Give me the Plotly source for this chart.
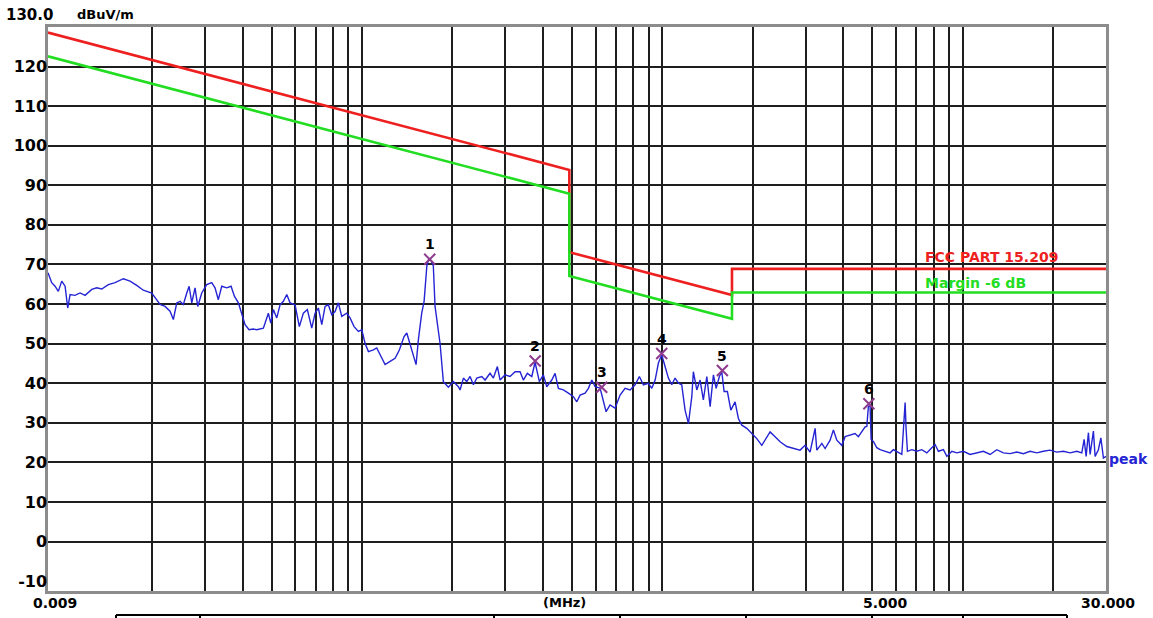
import math
import plotly.graph_objects as go

# ---- data ----
trace_freq = [
    0.009, 0.00926, 0.0095, 0.00974, 0.0100, 0.01026, 0.01047, 0.01066, 0.01107, 0.01151,
    0.01196, 0.01259, 0.01308, 0.01359, 0.0143, 0.01505, 0.01604, 0.01688, 0.01777, 0.01869,
    0.01994, 0.02045, 0.02125, 0.02208, 0.02294, 0.02353, 0.02415, 0.02477, 0.02541, 0.02608,
    0.02655, 0.0271, 0.02779, 0.02837, 0.02925, 0.03039, 0.03158, 0.03239, 0.03322, 0.0341,
    0.03543, 0.03663, 0.03757, 0.03874, 0.03976, 0.04078, 0.04205, 0.04345,
    0.04461, 0.04692, 0.04875, 0.04966, 0.05066, 0.052, 0.05333, 0.0547, 0.05614, 0.05757,
    0.05982, 0.06183, 0.06376, 0.06574, 0.068, 0.06975, 0.07153, 0.07342, 0.0753, 0.07723,
    0.07927, 0.0813, 0.08339, 0.08559, 0.08894, 0.0912, 0.09406, 0.09721, 0.0998, 0.1023,
    0.105, 0.1091, 0.1119, 0.1148, 0.1193, 0.124, 0.1288, 0.1331, 0.138, 0.1409,
    0.1445, 0.1482, 0.1513, 0.154, 0.158, 0.1609, 0.1643, 0.1665, 0.1697, 0.1727,
    0.175, 0.1818, 0.1865, 0.1938, 0.2014, 0.2093,
    0.212, 0.2175, 0.2232, 0.2289, 0.2348, 0.241, 0.2504, 0.2568, 0.2668, 0.2737,
    0.2822, 0.2881, 0.2994, 0.311, 0.3232, 0.3358, 0.3444, 0.3551, 0.3674, 0.3767,
    0.3817, 0.3894, 0.4015, 0.4121, 0.4282, 0.4392, 0.4505, 0.4681, 0.4864, 0.5054,
    0.5188, 0.5321, 0.5529, 0.5671, 0.5821, 0.597, 0.6202, 0.6361, 0.6494, 0.6696,
    0.6958, 0.723, 0.7513, 0.7806, 0.8111, 0.8383, 0.8644, 0.8983,
    0.922, 0.946, 0.970, 0.995, 1.021, 1.047, 1.075, 1.102, 1.131, 1.160,
    1.190, 1.221, 1.253, 1.268, 1.302, 1.335, 1.369, 1.406, 1.442, 1.479,
    1.510, 1.548, 1.577, 1.605, 1.646, 1.690, 1.746, 1.791, 1.838, 1.910,
    1.985, 2.062, 2.143, 2.227, 2.284, 2.373, 2.466, 2.596, 2.731, 2.874,
    2.987, 3.103, 3.225, 3.267, 3.395, 3.482, 3.618, 3.711, 3.809, 3.958,
    4.059, 4.217, 4.382, 4.494, 4.648, 4.732,
    4.794, 4.853, 4.916, 4.955, 5.042, 5.176, 5.308, 5.516, 5.731, 5.878,
    6.109, 6.270, 6.347, 6.431, 6.480, 6.546, 6.769, 7.034, 7.308, 7.594,
    7.890, 8.093, 8.300, 8.625, 8.855, 9.199, 9.559, 10.05, 10.58, 11.14,
    11.72, 12.34, 12.99, 13.66, 14.38, 15.14, 15.93, 16.76, 17.65, 18.56,
    19.54, 20.58, 21.64, 22.78, 23.99, 24.92, 25.37, 25.76, 26.22, 26.56,
    27.24, 27.60, 28.30, 28.84, 29.42, 30.0,
]
trace_level = [
    67.9, 65.4, 64.5, 63.2, 65.8, 64.5, 59.0, 62.4, 62.2, 62.8,
    62.2, 63.7, 64.1, 63.8, 64.9, 65.4, 66.4, 65.8, 64.7, 63.5,
    62.8, 61.6, 59.9, 59.4, 58.2, 56.1, 60.3, 60.7, 59.9, 62.8,
    64.5, 60.3, 64.1, 59.4, 62.8, 64.9, 65.4, 64.1, 61.1, 64.5,
    64.1, 64.5, 62.0, 60.3, 57.3, 54.8, 53.5, 53.7,
    53.5, 53.9, 57.7, 55.2, 58.6, 56.5, 59.8, 60.7, 62.4, 60.3,
    59.8, 54.3, 57.7, 58.6, 53.9, 57.7, 59.0, 54.8, 59.4, 59.8,
    57.3, 58.1, 60.3, 56.9, 57.7, 56.5, 54.3, 53.1, 53.5, 50.1,
    48.0, 48.4, 48.9, 47.2, 44.7, 45.5, 46.3, 48.4, 51.8, 52.7,
    49.7, 46.7, 44.7, 51.0, 57.7, 60.7, 69.6, 71.3, 71.0, 69.6,
    59.4, 50.1, 40.4, 39.0, 40.4, 39.1,
    38.3, 41.3, 40.4, 41.7, 39.6, 41.3, 41.7, 40.8, 42.5, 41.3,
    44.2, 40.8, 42.1, 41.7, 42.9, 42.9, 40.8, 42.5, 41.7, 45.3,
    43.6, 40.4, 42.1, 39.1, 40.8, 42.5, 38.7, 38.3, 37.5, 36.6,
    35.3, 37.0, 37.5, 38.7, 40.8, 39.1, 38.8, 35.3, 32.8, 34.5,
    33.7, 37.0, 38.7, 38.3, 39.6, 41.7, 39.6, 40.0,
    38.7, 40.8, 45.1, 47.2, 44.2, 41.3, 39.6, 41.3, 40.0, 39.6,
    33.2, 29.8, 36.6, 42.9, 38.3, 40.8, 35.8, 41.7, 34.1, 42.1,
    38.7, 41.7, 42.9, 37.9, 37.9, 33.2, 35.3, 31.1, 29.4, 28.6,
    27.3, 26.0, 24.3, 26.5, 27.7, 26.5, 25.2, 24.0, 23.5, 23.1,
    24.3, 22.6, 28.6, 23.1, 24.8, 23.5, 25.6, 28.2, 25.6, 24.3,
    26.5, 26.9, 27.3, 26.5, 28.2, 29.0,
    29.1, 34.2, 34.2, 25.8, 25.3, 23.7, 23.2, 22.8, 22.4, 23.2,
    22.4, 22.0, 28.3, 35.1, 28.3, 22.8, 23.2, 22.8, 23.2, 22.4,
    23.7, 24.5, 22.8, 23.2, 21.5, 22.8, 22.4, 22.8, 22.0, 22.4,
    22.8, 22.0, 23.2, 22.4, 22.2, 22.6, 22.2, 22.8, 22.4, 22.8,
    23.1, 22.6, 22.8, 22.4, 22.8, 22.4, 25.8, 21.5, 27.5, 22.0,
    27.9, 21.5, 23.2, 26.2, 21.1, 21.5,
]

limit_freq = [0.009, 0.49, 0.49, 1.705, 1.705, 30.0]
limit_level = [128.6, 93.9, 73.1, 62.3, 68.9, 68.9]
margin_level = [122.6, 87.9, 67.1, 56.3, 62.9, 62.9]

marker_freq = [0.168, 0.377, 0.628, 0.995, 1.584, 4.87]
marker_level = [71.3, 45.6, 39.0, 47.5, 43.2, 34.8]
marker_names = ["1", "2", "3", "4", "5", "6"]

y_ticks = [-10, 0, 10, 20, 30, 40, 50, 60, 70, 80, 90, 100, 110, 120]
y_grid = [0, 10, 20, 30, 40, 50, 60, 70, 80, 90, 100, 110, 120]
x_grid = [0.02, 0.03, 0.04, 0.05, 0.06, 0.07, 0.08, 0.09, 0.1,
          0.2, 0.3, 0.4, 0.5, 0.6, 0.7, 0.8, 0.9, 1,
          2, 3, 4, 5, 6, 7, 8, 9, 10, 20]
x_labels = [(0.009, "0.009", 7), (5.0, "5.000", 13), (30.0, "30.000", 2)]
legend_freq = 7.35

RED = "#ee1f1f"
GREEN = "#22dd22"
BLUE = "#2424d4"
PURPLE = "#8e3b8e"
FONT = "DejaVu Sans"

fig = go.Figure()
fig.add_trace(go.Scatter(x=limit_freq, y=limit_level, mode="lines",
                         line=dict(color=RED, width=2.6), hoverinfo="skip"))
fig.add_trace(go.Scatter(x=limit_freq, y=margin_level, mode="lines",
                         line=dict(color=GREEN, width=2.6), hoverinfo="skip"))
fig.add_trace(go.Scatter(x=trace_freq, y=trace_level, mode="lines",
                         line=dict(color=BLUE, width=1.4)))
fig.add_trace(go.Scatter(x=marker_freq, y=marker_level, mode="markers",
                         marker=dict(symbol="x-thin-open", size=11, color=PURPLE,
                                     line=dict(color=PURPLE, width=2))))

ann = []
for f, v, n in zip(marker_freq, marker_level, marker_names):
    ann.append(dict(x=math.log10(f), y=v, xref="x", yref="y", text=n, showarrow=False,
                    yshift=15, font=dict(family=FONT, size=14, color="black", weight="bold")))
for f, t, dx in x_labels:
    ann.append(dict(x=math.log10(f), y=0, xref="x", yref="paper", text=t, showarrow=False,
                    yanchor="top", yshift=-2, xshift=dx,
                    font=dict(family=FONT, size=14, color="black", weight="bold")))
ann.append(dict(x=math.log10(0.49), y=0, xref="x", yref="paper", text="(MHz)", showarrow=False,
                yanchor="top", yshift=-2, xshift=-5,
                font=dict(family=FONT, size=13, color="black", weight="bold")))
ann.append(dict(x=0, y=1, xref="paper", yref="paper", text="130.0", showarrow=False,
                xanchor="left", yanchor="middle", xshift=-44, yshift=12,
                font=dict(family=FONT, size=15, color="black", weight="bold")))
ann.append(dict(x=0, y=1, xref="paper", yref="paper", text="dBuV/m", showarrow=False,
                xanchor="left", yanchor="middle", xshift=27, yshift=13,
                font=dict(family=FONT, size=13, color="black", weight="bold")))
ann.append(dict(x=1, y=trace_level[-1], xref="paper", yref="y", text="peak", showarrow=False,
                xanchor="left", yanchor="middle", xshift=1, yshift=-3,
                font=dict(family=FONT, size=14, color=BLUE, weight="bold")))
ann.append(dict(x=math.log10(legend_freq), y=limit_level[-1], xref="x", yref="y",
                text="FCC PART 15.209", showarrow=False, xanchor="left", yanchor="bottom",
                yshift=2, font=dict(family=FONT, size=14, color=RED, weight="bold")))
ann.append(dict(x=math.log10(legend_freq), y=margin_level[-1], xref="x", yref="y",
                text="Margin -6 dB", showarrow=False, xanchor="left", yanchor="bottom",
                yshift=0, font=dict(family=FONT, size=14, color=GREEN, weight="bold")))

# partial table edge below the chart (decoration)
shapes = []
W, H = 1058.0, 564.0
def px(xp):
    return (xp - 48) / W
yl = (591 - 615) / H
shapes.append(dict(type="line", xref="paper", yref="paper", x0=px(116), x1=px(1067), y0=yl, y1=yl,
                   line=dict(color="black", width=2)))
for xp in [116, 200, 494, 620, 746, 872, 963, 1067]:
    shapes.append(dict(type="line", xref="paper", yref="paper", x0=px(xp), x1=px(xp),
                       y0=yl, y1=yl - 8 / H, line=dict(color="black", width=2)))

fig.update_layout(
    width=1153, height=618,
    margin=dict(l=48, r=47, t=27, b=27, autoexpand=False),
    paper_bgcolor="white", plot_bgcolor="white",
    showlegend=False,
    annotations=ann,
    shapes=shapes,
    xaxis=dict(type="log", range=[math.log10(0.009), math.log10(30.0)],
               showticklabels=False, ticks="", showgrid=False, zeroline=False,
               showline=True, mirror=True, linecolor="#8c8c8c", linewidth=2.5,
               minor=dict(tickmode="array", tickvals=x_grid, showgrid=True,
                          gridcolor="#1e1e1e", gridwidth=1.7, ticks="")),
    yaxis=dict(range=[-12.5, 130], tickmode="array", tickvals=y_ticks,
               ticktext=[str(v) for v in y_ticks], ticks="", showgrid=False, zeroline=False,
               showline=True, mirror=True, linecolor="#8c8c8c", linewidth=2.5,
               ticklabelstandoff=-5,
               tickfont=dict(family=FONT, size=16, color="black", weight="bold"),
               minor=dict(tickmode="array", tickvals=y_grid, showgrid=True,
                          gridcolor="#1e1e1e", gridwidth=1.7, ticks="")),
)

fig.write_html("out.html", config={"displayModeBar": False},
               post_script="document.body.style.margin='0px';document.body.style.overflow='hidden';")
